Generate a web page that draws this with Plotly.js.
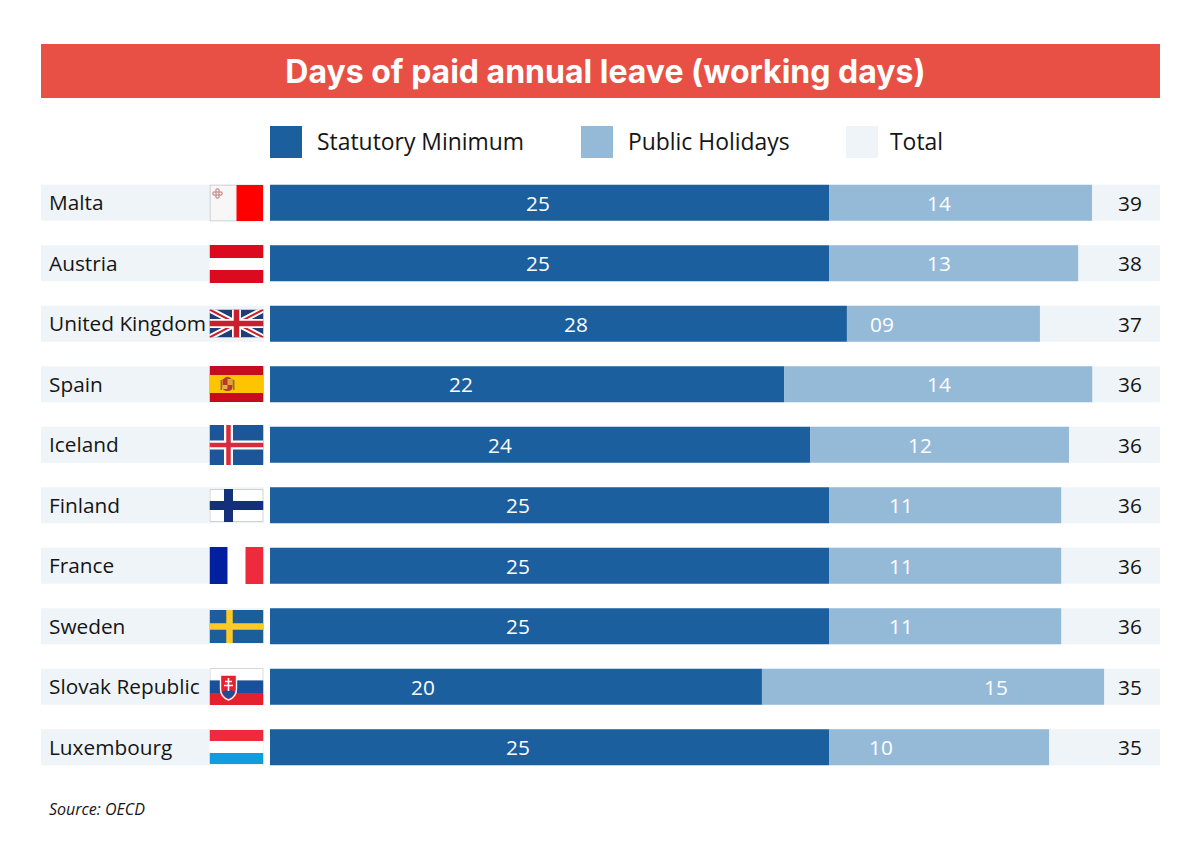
<!DOCTYPE html>
<html><head><meta charset="utf-8">
<script src="https://cdn.plot.ly/plotly-3.0.1.min.js"></script>
<style>html,body{margin:0;padding:0;background:#fff}</style></head>
<body><div id="chart" style="width:1200px;height:846px"></div>
<script>
const countries=["Malta","Austria","United Kingdom","Spain","Iceland","Finland","France","Sweden","Slovak Republic","Luxembourg"];
// printed labels
const statutoryLabels=["25","25","28","22","24","25","25","25","20","25"];
const holidayLabels=["14","13","09","14","12","11","11","11","15","10"];
const totalLabels=["39","38","37","36","36","36","36","36","35","35"];
// drawn bar lengths (the source bars are not strictly to scale)
const statutoryDrawn=[25,25,25.8,23,24.15,25,25,25,22,25];
const holidayDrawn=[11.76,11.14,8.63,13.77,11.58,10.38,10.38,10.38,15.3,9.84];
// label anchor points on the same axis
const statutoryLabelAt=[11.99,11.99,13.68,8.54,10.29,11.09,11.09,11.09,6.84,11.09];
const holidayLabelAt=[29.92,29.92,27.37,29.92,29.07,28.22,28.22,28.22,32.47,27.33];
const totalLabelAt=38.46;
const axisMin=-10.24, axisMax=39.8, labelCellEnd=-0.27;

const W=1200,H=846;
const px=v=>v/W, py=v=>1-v/H;
const FONT='"Open Sans", sans-serif';
const NAVY='#1C5F9E',SKY='#95BAD7',PALE='#EFF4F9',RED='#E85045';

const flagSvgs={
 "Malta":[54,37,'<rect x=".5" y=".5" width="53" height="36" fill="#f7f7f7" stroke="#c4c4c4"/><rect x="27" y=".5" width="26.5" height="36" fill="#fe0000"/><g fill="none" stroke="#c98a8a" stroke-width="1.2"><circle cx="8" cy="6" r="1.7"/><circle cx="5" cy="9" r="1.7"/><circle cx="11" cy="9" r="1.7"/><circle cx="8" cy="12" r="1.7"/></g>'],
 "Austria":[54,38,'<rect width="54" height="38" fill="#fff"/><rect width="54" height="13" fill="#DC0A1E"/><rect y="25" width="54" height="13" fill="#DC0A1E"/>'],
 "United Kingdom":[54,28,'<rect width="54" height="28" fill="#1F3D7A"/><path d="M0 0L54 28M54 0L0 28" stroke="#fff" stroke-width="6"/><path d="M0 0L54 28M54 0L0 28" stroke="#C8202F" stroke-width="2"/><path d="M27 0V28M0 14H54" stroke="#fff" stroke-width="9"/><path d="M27 0V28M0 14H54" stroke="#C8202F" stroke-width="5.5"/>'],
 "Spain":[54,36,'<rect width="54" height="36" fill="#C60B1E"/><rect y="9" width="54" height="18" fill="#FFC400"/><path d="M13 13H23V21Q23 25 18 25Q13 25 13 21Z" fill="#B5382A"/><rect x="18" y="13" width="5" height="6" fill="#D9A63A"/><rect x="13" y="19" width="5" height="4" fill="#E0B050"/><path d="M14 13Q18 8.5 22 13Z" fill="#A8452F"/><rect x="11" y="14" width="1.5" height="10" fill="#8c6d5a"/><rect x="23.5" y="14" width="1.5" height="10" fill="#8c6d5a"/>'],
 "Iceland":[54,40,'<rect width="54" height="40" fill="#1C5699"/><path d="M19 0V40M0 20H54" stroke="#fff" stroke-width="9"/><path d="M19 0V40M0 20H54" stroke="#D72B3F" stroke-width="4.5"/>'],
 "Finland":[54,33,'<rect x=".5" y=".5" width="53" height="32" fill="#fff" stroke="#cfcfcf"/><path d="M19 0V33M0 16.5H54" stroke="#14307A" stroke-width="9"/>'],
 "France":[54,37,'<rect width="54" height="37" fill="#fff"/><rect width="18" height="37" fill="#00209F"/><rect x="36" width="18" height="37" fill="#EE2B3C"/>'],
 "Sweden":[54,33,'<rect width="54" height="33" fill="#1B5E9A"/><path d="M20 0V33M0 16.5H54" stroke="#FFC928" stroke-width="6.5"/>'],
 "Slovak Republic":[54,37,'<rect width="54" height="37" fill="#fff"/><rect y=".5" x=".5" width="53" height="12" fill="#fff" stroke="#d6d6d6"/><rect y="12.5" width="54" height="12.5" fill="#1A4F9C"/><rect y="25" width="54" height="12" fill="#E5212F"/><path d="M11 7H27V21Q27 29 19 32Q11 29 11 21Z" fill="#E5212F" stroke="#fff" stroke-width="1.4"/><path d="M12.5 24Q19 20 25.5 24Q23.5 29 19 30.5Q14.5 29 12.5 24Z" fill="#1A4F9C"/><path d="M19 10V23M15.5 13.5H22.5M14.5 17.5H23.5" stroke="#fff" stroke-width="1.6"/>'],
 "Luxembourg":[54,34,'<rect width="54" height="34" fill="#fff"/><rect width="54" height="11" fill="#EE2B3C"/><rect y="23" width="54" height="11" fill="#0F9DDC"/>']
};
const flagCentres={"Malta":203,"Austria":264,"United Kingdom":323.5,"Spain":384,"Iceland":445,"Finland":505.5,"France":565.5,"Sweden":626.5,"Slovak Republic":686.5,"Luxembourg":747};
const images=countries.map(c=>{
  const [w,h,body]=flagSvgs[c];
  const svg=`<svg xmlns="http://www.w3.org/2000/svg" width="${w*3}" height="${h*3}" viewBox="0 0 ${w} ${h}" preserveAspectRatio="none">${body}</svg>`;
  return {source:'data:image/svg+xml;charset=utf-8,'+encodeURIComponent(svg),xref:'paper',yref:'paper',
    x:px(209.5),y:py(flagCentres[c]),sizex:w/W,sizey:h/H,xanchor:'left',yanchor:'middle',sizing:'stretch',layer:'above'};
});

const row=countries.map(()=>0);
const base={type:'bar',orientation:'h',y:countries,hoverinfo:'skip',showlegend:false};
const traces=[
 {...base,name:'Label cell',x:row.map(()=>labelCellEnd-axisMin),base:row.map(()=>axisMin),marker:{color:PALE,line:{width:0}}},
 {...base,name:'Total',x:row.map(()=>axisMax),base:row,marker:{color:PALE,line:{width:0}}},
 {...base,name:'Statutory Minimum',x:statutoryDrawn,base:row,marker:{color:NAVY,line:{width:0}}},
 {...base,name:'Public Holidays',x:holidayDrawn,base:statutoryDrawn,marker:{color:SKY,line:{width:0}}}
];
const rect=(x0,y0,x1,y1,c)=>({type:'rect',xref:'paper',yref:'paper',x0:px(x0),x1:px(x1),y0:py(y0),y1:py(y1),fillcolor:c,line:{width:0},layer:'below'});
const note=(x,y,text,size)=>({xref:'paper',yref:'paper',x:px(x),y:py(y),text,showarrow:false,xanchor:'left',yanchor:'middle',
  font:{family:FONT,size,color:'#151515',weight:500}});
const rowLabel=(x,c,text,color,anchor,yshift)=>({xref:'x',yref:'y',x,y:c,text,showarrow:false,xanchor:anchor,yanchor:'middle',yshift,
  font:{family:FONT,size:20.8,color,weight:500}});
const annotations=[
  note(315,141.5,'Statutory Minimum',22.9),note(626,141.5,'Public Holidays',22.9),note(888,141.5,'Total',22.9),
  note(47,809,'<i>Source: OECD</i>',16),
  ...countries.map(c=>rowLabel(axisMin+0.26,c,c,'#151515','left',0.75)),
  ...countries.map((c,i)=>rowLabel(statutoryLabelAt[i],c,statutoryLabels[i],'#ffffff','center',0)),
  ...countries.map((c,i)=>rowLabel(holidayLabelAt[i],c,holidayLabels[i],'#ffffff','center',0)),
  ...countries.map((c,i)=>rowLabel(totalLabelAt,c,totalLabels[i],'#151515','center',0))
];
const layout={
  width:W,height:H,autosize:false,margin:{l:0,r:0,t:0,b:0},paper_bgcolor:'#fff',plot_bgcolor:'rgba(0,0,0,0)',
  barmode:'overlay',bargap:0.405,showlegend:false,
  title:{text:'<b>Days of paid annual leave (working days)</b>',x:0.5045,xanchor:'center',y:py(71.5),yanchor:'middle',
    font:{family:'Inter, sans-serif',size:32,color:'#fff'}},
  xaxis:{domain:[px(41),px(1160)],range:[axisMin,axisMax],showgrid:false,zeroline:false,showticklabels:false,ticks:'',fixedrange:true},
  yaxis:{domain:[py(777.5),py(172.5)],type:'category',autorange:false,range:[9.5,-0.5],showgrid:false,zeroline:false,showticklabels:false,ticks:'',fixedrange:true},
  shapes:[rect(41,44,1160,98,RED),rect(270,126,302,158,NAVY),rect(581,126,613,158,SKY),rect(846,126,878,158,PALE)],
  annotations,images
};
Plotly.newPlot('chart',traces,layout,{displayModeBar:false,staticPlot:true});
</script></body></html>
